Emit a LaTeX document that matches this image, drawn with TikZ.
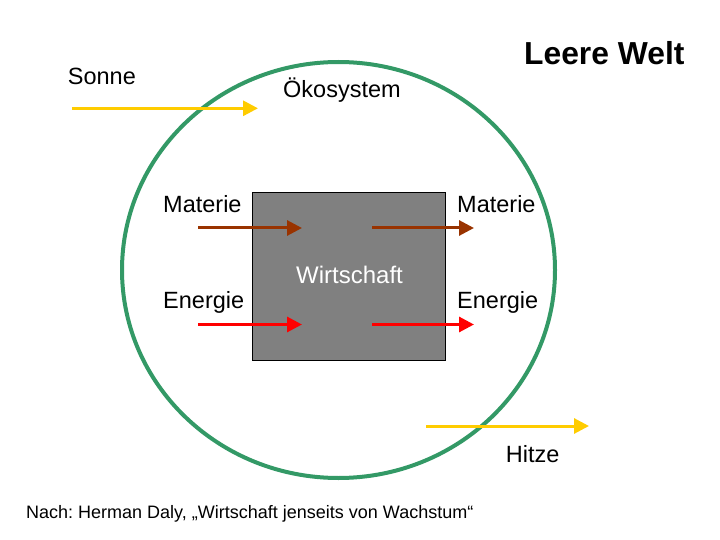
\documentclass[tikz,border=0pt]{standalone}
\usepackage{fontspec}
\setmainfont{Liberation Sans}
\usetikzlibrary{arrows.meta}
\definecolor{ecogreen}{HTML}{339966}
\definecolor{matbrown}{HTML}{993300}
\definecolor{sunyellow}{HTML}{FFCC00}
\definecolor{boxgray}{HTML}{808080}
\tikzset{
  lbl/.style={anchor=base west, inner sep=0pt, font=\fontsize{23.5}{28}\selectfont},
  flow/.style={line width=3pt, -{Triangle[length=15pt,width=15pt]}},
}
\frenchspacing
\begin{document}
\begin{tikzpicture}[x=1pt,y=-1pt]
\useasboundingbox (0,0) rectangle (720,540);
% ecosystem
\draw[ecogreen, line width=4pt] (338.5,270) ellipse [x radius=216.5pt, y radius=208pt];
% economy box
\node (wirt) [draw=black, line width=1pt, fill=boxgray, minimum width=193pt, minimum height=167pt, inner sep=0pt] at (348.5,276.5) {};
\node (wirtlabel) [anchor=base, inner sep=0pt, text=white, font=\fontsize{24}{28}\selectfont] at (349.5,283.5) {Wirtschaft};
% title
\node (title) [anchor=base west, inner sep=0pt, font=\fontsize{31.8}{36}\bfseries\selectfont] at (524,65) {Leere Welt};
% labels
\node (sonne) [lbl] at (67.7,85) {Sonne};
\node (oeko) [lbl] at (283,97.5) {Ökosystem};
\node (matin) [lbl] at (163,212) {Materie};
\node (matout) [lbl] at (457,212) {Materie};
\node (enin) [lbl] at (163,308) {Energie};
\node (enout) [lbl] at (457,308) {Energie};
\node (hitze) [lbl] at (505.7,462.7) {Hitze};
\node (source) [anchor=base west, inner sep=0pt, font=\fontsize{18}{22}\selectfont] at (26,518.3) {Nach: Herman Daly, „Wirtschaft jenseits von Wachstum“};
% arrow end points
\coordinate (s1) at (72,108.3);   \coordinate (s2) at (258,108.3);
\coordinate (m1) at (198,228);    \coordinate (m2) at (302,228);
\coordinate (m3) at (372,228);    \coordinate (m4) at (474,228);
\coordinate (e1) at (198,324.5);  \coordinate (e2) at (302,324.5);
\coordinate (e3) at (372,324.5);  \coordinate (e4) at (474,324.5);
\coordinate (h1) at (426,426);    \coordinate (h2) at (589,426);
% arrows
\draw[flow, sunyellow] (s1) -- (s2);
\draw[flow, matbrown] (m1) -- (m2);
\draw[flow, matbrown] (m3) -- (m4);
\draw[flow, red] (e1) -- (e2);
\draw[flow, red] (e3) -- (e4);
\draw[flow, sunyellow] (h1) -- (h2);
\end{tikzpicture}
\end{document}
